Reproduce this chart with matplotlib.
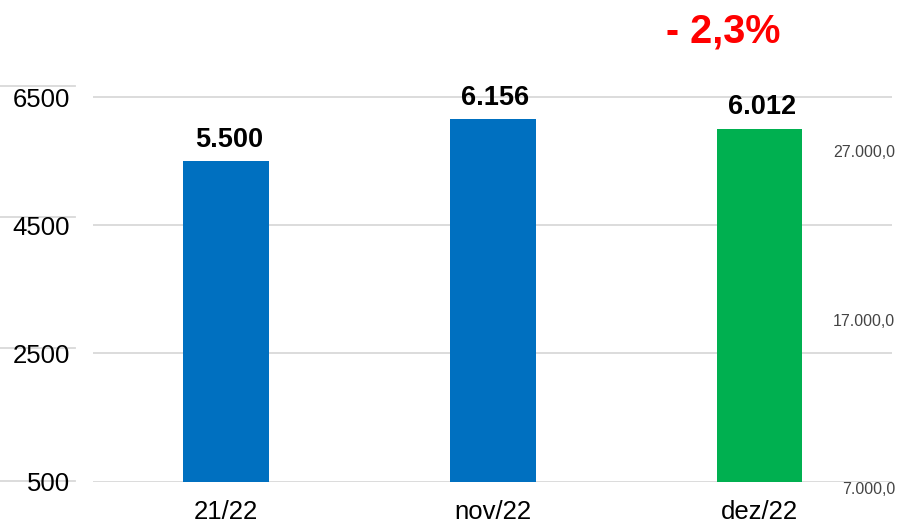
import matplotlib
matplotlib.use('Agg')
import matplotlib.pyplot as plt
from matplotlib import transforms
from matplotlib.lines import Line2D

plt.rcParams['font.family'] = ['Liberation Sans', 'DejaVu Sans']

# Data
categories = ['21/22', 'nov/22', 'dez/22']
values = [5500, 6156, 6012]
value_labels = ['5.500', '6.156', '6.012']
bar_colors = ['#0070C0', '#0070C0', '#00B050']
y_ticks = [500, 2500, 4500, 6500]
# leftover ghost scale on the right edge of the slide
ghost_ticks = [7000, 17000, 27000]
ghost_labels = ['7.000,0', '17.000,0', '27.000,0']

W, H = 900, 524
fig = plt.figure(figsize=(W / 100, H / 100), dpi=100)
ax = fig.add_axes([93 / W, 42.5 / H, 799 / W, 481.5 / H])

x = list(range(len(categories)))
ax.bar(x, [v - y_ticks[0] for v in values], bottom=y_ticks[0], width=0.322,
       color=bar_colors, zorder=2)
ax.set_xlim(-0.4986, 2.4967)
ax.set_ylim(500, 8023)

for t in y_ticks:
    ax.axhline(t, color='#d9d9d9', lw=1.3, zorder=1)

# short misaligned grid stubs behind the y labels
stub_offsets = [0.5, 5, 8, 11.5]  # px above each gridline
for t, off in zip(y_ticks, stub_offsets):
    ypx = ax.transData.transform((0, t))[1] + off
    fig.add_artist(Line2D([0, 75 / W], [ypx / H, ypx / H], color='#d9d9d9',
                          lw=1.3, transform=fig.transFigure, zorder=0))

ax.set_yticks(y_ticks)
ax.set_yticklabels([str(t) for t in y_ticks])
ax.tick_params(axis='y', length=0, pad=16.5, labelsize=18.5)
ax.set_xticks(x)
ax.set_xticklabels(categories)
ax.tick_params(axis='x', length=0, pad=13, labelsize=18.5)
for s in ax.spines.values():
    s.set_visible(False)

for xi, v, lab in zip(x, values, value_labels):
    ax.annotate(lab, (xi, v), xytext=(2, 10.5), textcoords='offset points',
                ha='center', va='baseline', fontsize=19.5, fontweight='bold')

change = (values[2] - values[1]) / values[1] * 100
change_txt = '- ' + f'{abs(change):.1f}'.replace('.', ',') + '%'
ax.annotate(change_txt, (2, values[2]), xytext=(-26, 62),
            textcoords='offset points', ha='center', va='baseline',
            fontsize=28.5, fontweight='bold', color='#FF0000')

ax2 = ax.twinx()
ax2.set_ylim(7504, 36080)
ax2.set_yticks([])
for s in ax2.spines.values():
    s.set_visible(False)
tr = transforms.blended_transform_factory(ax.transAxes, ax2.transData)
for t, lab in zip(ghost_ticks, ghost_labels):
    ax2.text(1.004, t, lab, transform=tr, ha='right', va='center',
             fontsize=11.5, color='#444444', clip_on=False)

fig.savefig('out.png', dpi=100)
